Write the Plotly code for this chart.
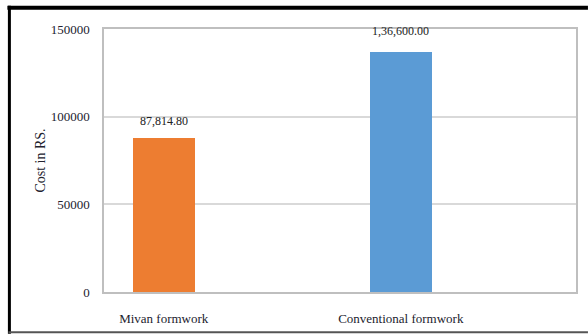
import plotly.graph_objects as go

categories = ["Mivan formwork", "Conventional formwork"]
costs = [87814.80, 136600.00]
cost_labels = ["87,814.80", "1,36,600.00"]
bar_colors = ["#ED7D31", "#5B9BD5"]
y_ticks = [0, 50000, 100000, 150000]
y_tick_labels = ["0", "50000", "100000", "150000"]

W, H = 588, 336
ML, MR, MT, MB = 104, 10, 29, 42
PW, PH = W - ML - MR, H - MT - MB

def px_x(px):
    return (px - ML) / PW

def px_y(py):
    return (H - MB - py) / PH

xpos = list(range(len(categories)))

fig = go.Figure()
fig.add_trace(go.Bar(
    x=xpos, y=costs, width=0.26,
    marker=dict(color=bar_colors, line=dict(width=0)),
    hoverinfo="skip",
))

label_shift = [8, 12]
for i, (xv, yv, lab) in enumerate(zip(xpos, costs, cost_labels)):
    fig.add_annotation(
        x=xv, y=yv, text=lab, showarrow=False, yanchor="bottom",
        yshift=label_shift[i],
        font=dict(family="Liberation Serif", size=12, color="#222222"),
    )

serif = "Liberation Serif"
fig.update_layout(
    width=W, height=H,
    margin=dict(l=ML, r=MR, t=MT, b=MB),
    paper_bgcolor="white", plot_bgcolor="white",
    showlegend=False,
    bargap=0,
    font=dict(family=serif, size=13, color="#22222e"),
    xaxis=dict(
        tickmode="array", tickvals=xpos, ticktext=categories,
        range=[-0.252, 1.739],
        showgrid=False, zeroline=False,
        showline=True, mirror=True, linecolor="#bfbfbf", linewidth=1.5,
        ticks="", ticklabelstandoff=14,
        tickfont=dict(family=serif, size=13, color="#22222e"),
    ),
    yaxis=dict(
        range=[0, 150000],
        tickmode="array", tickvals=y_ticks, ticktext=y_tick_labels,
        showgrid=True, gridcolor="#d9d9d9", gridwidth=1.5,
        zeroline=False,
        showline=True, mirror=True, linecolor="#bfbfbf", linewidth=1.5,
        ticks="", ticklabelstandoff=10,
        tickfont=dict(family=serif, size=13, color="#22222e"),
        title=dict(text="Cost in RS.", standoff=2,
                   font=dict(family=serif, size=14, color="#22222e")),
    ),
)

# outer frame
fig.add_shape(type="line", xref="paper", yref="paper",
              x0=px_x(7), x1=px_x(590), y0=px_y(7.5), y1=px_y(7.5),
              line=dict(color="black", width=4))
fig.add_shape(type="line", xref="paper", yref="paper",
              x0=px_x(9), x1=px_x(9), y0=px_y(5.5), y1=px_y(336),
              line=dict(color="black", width=3))
fig.add_shape(type="line", xref="paper", yref="paper",
              x0=px_x(8), x1=px_x(590), y0=px_y(334.5), y1=px_y(334.5),
              line=dict(color="#555555", width=2))

fig.write_html("out.html")
